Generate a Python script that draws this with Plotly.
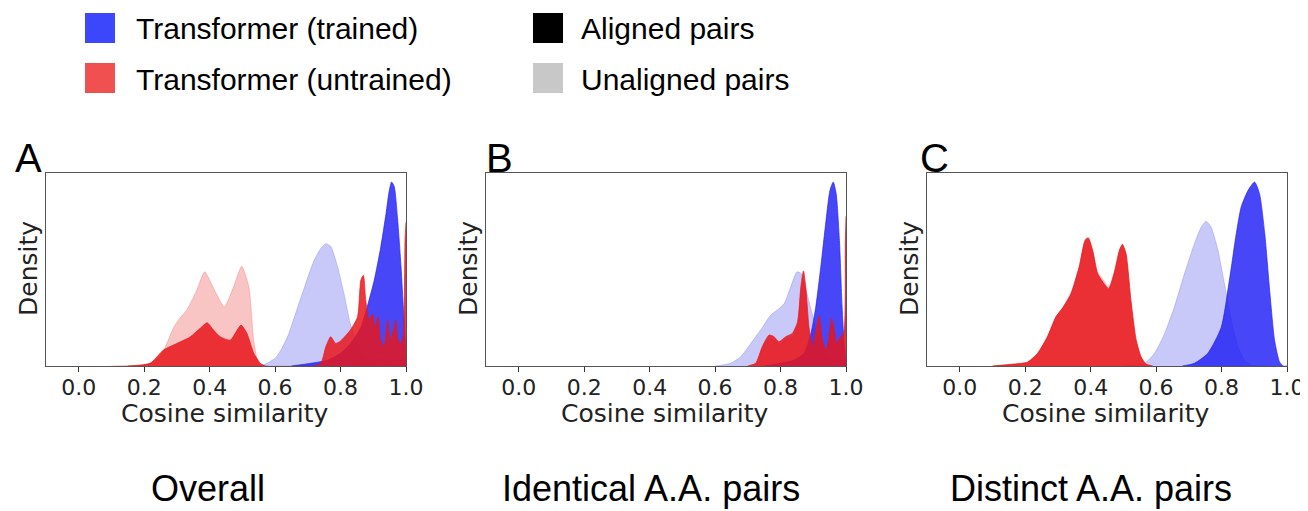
import plotly.graph_objects as go

# the page body adds an 8px margin at the top-left; figure fills the rest of the window
OFF = 8
W, H = 1308 - OFF, 511 - OFF

# ---------------- data (density, arbitrary units) ----------------
tick_vals = [0.0, 0.2, 0.4, 0.6, 0.8, 1.0]
tick_text = ["0.0", "0.2", "0.4", "0.6", "0.8", "1.0"]
panel_letters = ["A", "B", "C"]
panel_titles = ["Overall", "Identical A.A. pairs", "Distinct A.A. pairs"]
legend_models = ["Transformer (trained)", "Transformer (untrained)"]
legend_pairs = ["Aligned pairs", "Unaligned pairs"]

# Panel A: Overall
A_tu_x = [0.50, 0.55, 0.57, 0.60, 0.62, 0.64, 0.66, 0.68, 0.70, 0.72, 0.74, 0.755, 0.77, 0.79, 0.81, 0.83, 0.85, 0.87, 0.90, 0.95, 1.00]
A_tu_y = [0.0, 0.002, 0.01, 0.04, 0.09, 0.16, 0.26, 0.36, 0.46, 0.55, 0.61, 0.634, 0.62, 0.52, 0.38, 0.22, 0.12, 0.05, 0.015, 0.005, 0.003]
A_uu_x = [0.10, 0.15, 0.20, 0.22, 0.25, 0.27, 0.29, 0.31, 0.33, 0.36, 0.385, 0.41, 0.445, 0.473, 0.498, 0.52, 0.535, 0.55, 0.57, 0.60, 0.80, 0.85, 0.88, 0.90, 0.92, 0.95, 0.97, 1.00]
A_uu_y = [0.0, 0.002, 0.006, 0.015, 0.05, 0.12, 0.20, 0.25, 0.29, 0.39, 0.488, 0.41, 0.307, 0.41, 0.517, 0.41, 0.13, 0.015, 0.0, 0.0, 0.005, 0.02, 0.03, 0.025, 0.035, 0.025, 0.03, 0.05]
A_ta_x = [0.65, 0.709, 0.76, 0.80, 0.831, 0.862, 0.882, 0.903, 0.923, 0.939, 0.949, 0.956, 0.964, 0.974, 0.985, 0.993, 1.00]
A_ta_y = [0.0, 0.014, 0.03, 0.066, 0.117, 0.20, 0.31, 0.445, 0.617, 0.79, 0.91, 0.953, 0.93, 0.77, 0.51, 0.27, 0.066]
A_ua_x = [0.15, 0.218, 0.259, 0.30, 0.34, 0.371, 0.392, 0.412, 0.432, 0.463, 0.484, 0.496, 0.514, 0.535, 0.555, 0.57, 0.72,
          0.74, 0.755, 0.77, 0.785, 0.80, 0.83, 0.852, 0.862, 0.87, 0.877, 0.887, 0.898, 0.905, 0.915, 0.923, 0.933,
          0.944, 0.952, 0.962, 0.969, 0.976, 0.985, 0.992, 0.997, 1.00]
A_ua_y = [0.0, 0.014, 0.083, 0.117, 0.15, 0.195, 0.224, 0.186, 0.152, 0.134, 0.186, 0.212, 0.169, 0.066, 0.014, 0.0, 0.0,
          0.014, 0.10, 0.152, 0.117, 0.13, 0.186, 0.255, 0.445, 0.47, 0.34, 0.24, 0.27, 0.20, 0.255, 0.134, 0.10,
          0.24, 0.134, 0.186, 0.238, 0.134, 0.117, 0.169, 0.65, 0.746]

# Panel B: Identical A.A. pairs
B_tu_x = [0.60, 0.647, 0.678, 0.709, 0.739, 0.77, 0.79, 0.811, 0.831, 0.85, 0.862, 0.88, 0.90, 0.92, 0.95, 1.00]
B_tu_y = [0.0, 0.014, 0.048, 0.117, 0.186, 0.264, 0.29, 0.324, 0.41, 0.488, 0.48, 0.38, 0.25, 0.12, 0.04, 0.01]
B_uu_x = [0.70, 0.724, 0.744, 0.765, 0.78, 0.795, 0.816, 0.836, 0.852, 0.862, 0.87, 0.877, 0.887, 0.898, 0.908, 0.918,
          0.928, 0.939, 0.949, 0.956, 0.964, 0.972, 0.983, 0.993, 0.998, 1.00]
B_uu_y = [0.0, 0.012, 0.09, 0.14, 0.135, 0.11, 0.135, 0.15, 0.20, 0.37, 0.44, 0.37, 0.18, 0.09, 0.165, 0.23,
          0.12, 0.075, 0.15, 0.22, 0.165, 0.105, 0.135, 0.15, 0.58, 0.70]
B_ta_x = [0.75, 0.80, 0.841, 0.872, 0.893, 0.908, 0.923, 0.939, 0.951, 0.961, 0.97, 0.98, 0.988, 0.995, 1.00]
B_ta_y = [0.0, 0.014, 0.03, 0.066, 0.169, 0.31, 0.514, 0.755, 0.91, 0.953, 0.893, 0.65, 0.31, 0.10, 0.014]
B_ua_x = [0.70, 0.724, 0.744, 0.765, 0.78, 0.795, 0.816, 0.836, 0.852, 0.862, 0.87, 0.877, 0.887, 0.898, 0.908, 0.918,
          0.928, 0.939, 0.949, 0.956, 0.964, 0.972, 0.983, 0.993, 0.998, 1.00]
B_ua_y = [0.0, 0.014, 0.10, 0.16, 0.152, 0.126, 0.152, 0.169, 0.229, 0.41, 0.493, 0.41, 0.20, 0.10, 0.186, 0.259,
          0.134, 0.083, 0.169, 0.247, 0.186, 0.117, 0.152, 0.169, 0.65, 0.776]

# Panel C: Distinct A.A. pairs
C_tu_x = [0.50, 0.564, 0.595, 0.626, 0.656, 0.687, 0.717, 0.738, 0.753, 0.768, 0.789, 0.809, 0.83, 0.85, 0.87, 0.89, 0.95]
C_tu_y = [0.0, 0.014, 0.066, 0.169, 0.307, 0.48, 0.634, 0.72, 0.75, 0.72, 0.60, 0.427, 0.238, 0.10, 0.031, 0.005, 0.0]
C_uu_x = [0.10, 0.166, 0.207, 0.238, 0.268, 0.294, 0.314, 0.34, 0.365, 0.383, 0.393, 0.406, 0.421, 0.437, 0.455, 0.472,
          0.488, 0.497, 0.508, 0.523, 0.539, 0.554, 0.569, 0.59]
C_uu_y = [0.0, 0.01, 0.02, 0.066, 0.152, 0.255, 0.30, 0.376, 0.514, 0.645, 0.655, 0.60, 0.49, 0.45, 0.41, 0.49,
          0.60, 0.625, 0.58, 0.345, 0.14, 0.05, 0.01, 0.0]
C_ta_x = [0.68, 0.717, 0.758, 0.799, 0.824, 0.845, 0.86, 0.881, 0.901, 0.916, 0.932, 0.947, 0.962, 0.977, 0.988, 1.00]
C_ta_y = [0.0, 0.014, 0.066, 0.20, 0.445, 0.686, 0.824, 0.91, 0.953, 0.893, 0.686, 0.393, 0.134, 0.022, 0.0, 0.0]
C_ua_x = [0.10, 0.166, 0.207, 0.238, 0.268, 0.294, 0.314, 0.34, 0.365, 0.383, 0.393, 0.406, 0.421, 0.437, 0.455, 0.472,
          0.488, 0.497, 0.508, 0.523, 0.539, 0.554, 0.569, 0.59]
C_ua_y = [0.0, 0.01, 0.02, 0.066, 0.152, 0.255, 0.30, 0.376, 0.514, 0.652, 0.664, 0.60, 0.48, 0.436, 0.40, 0.48,
          0.60, 0.631, 0.583, 0.341, 0.134, 0.048, 0.01, 0.0]

# ---------------- styles ----------------
COL_TA = "rgba(30,30,245,0.82)"    # trained, aligned
COL_TU = "rgba(60,60,235,0.28)"    # trained, unaligned
COL_UA = "rgba(232,22,28,0.85)"    # untrained, aligned
COL_UU = "rgba(235,60,60,0.30)"    # untrained, unaligned

AX_FONT = "DejaVu Sans"
TXT_FONT = "Liberation Sans, Arial, sans-serif"

panels = [
    (A_tu_x, A_tu_y, A_uu_x, A_uu_y, A_ta_x, A_ta_y, A_ua_x, A_ua_y),
    (B_tu_x, B_tu_y, B_uu_x, B_uu_y, B_ta_x, B_ta_y, B_ua_x, B_ua_y),
    (C_tu_x, C_tu_y, C_uu_x, C_uu_y, C_ta_x, C_ta_y, C_ua_x, C_ua_y),
]

def px(x):
    return (x - OFF) / W

def py(y):
    return 1 - (y - OFF) / H

box_left = [46, 486, 927]
box_w = 360
box_top, box_bot = 173, 366

fig = go.Figure()

for i, (tux, tuy, uux, uuy, tax, tay, uax, uay) in enumerate(panels):
    suffix = "" if i == 0 else str(i + 1)
    for xs, ys, col in [(tux, tuy, COL_TU), (uux, uuy, COL_UU), (tax, tay, COL_TA), (uax, uay, COL_UA)]:
        fig.add_trace(go.Scatter(
            x=xs, y=ys, mode="lines", fill="tozeroy", fillcolor=col,
            line=dict(color=col, width=0.8, shape="spline", smoothing=0.6),
            xaxis="x" + suffix, yaxis="y" + suffix, showlegend=False, hoverinfo="skip"))

layout = dict(
    width=W, height=H, autosize=False,
    margin=dict(l=0, r=0, t=0, b=0, pad=0, autoexpand=False),
    paper_bgcolor="white", plot_bgcolor="white", showlegend=False,
)
for i in range(3):
    suffix = "" if i == 0 else str(i + 1)
    layout["xaxis" + suffix] = dict(
        domain=[px(box_left[i]), px(box_left[i] + box_w)], anchor="y" + suffix,
        range=[-0.1, 1.0], tickvals=tick_vals, ticktext=tick_text,
        ticks="outside", ticklen=5, tickwidth=1.2, tickcolor="#333",
        showline=True, linecolor="#555", linewidth=1.3, mirror=True,
        showgrid=False, zeroline=False, ticklabelstandoff=-4, automargin=False,
        tickfont=dict(family=AX_FONT, size=22, color="#222"),
    )
    layout["yaxis" + suffix] = dict(
        domain=[py(box_bot), py(box_top)], anchor="x" + suffix,
        range=[0, 1.0], showticklabels=False, ticks="", automargin=False,
        showline=True, linecolor="#555", linewidth=1.3, mirror=True,
        showgrid=False, zeroline=False,
    )
fig.update_layout(**layout)

ann = []
title_cx = [208, 651, 1091]
letter_x = [15, 486, 920]
for i in range(3):
    cx = box_left[i] + box_w / 2
    ann.append(dict(text=panel_letters[i], x=px(letter_x[i] - 2), y=py(158), xref="paper", yref="paper",
                    xanchor="left", yanchor="middle", showarrow=False,
                    font=dict(family=TXT_FONT, size=40, color="black")))
    ann.append(dict(text="Density", x=px(box_left[i] - 18), y=py(269), xref="paper", yref="paper",
                    xanchor="center", yanchor="middle", textangle=-90, showarrow=False,
                    font=dict(family=AX_FONT, size=25, color="#222")))
    ann.append(dict(text="Cosine similarity", x=px(cx - 2), y=py(413), xref="paper", yref="paper",
                    xanchor="center", yanchor="middle", showarrow=False,
                    font=dict(family=AX_FONT, size=25, color="#222")))
    ann.append(dict(text=panel_titles[i], x=px(title_cx[i]), y=py(488), xref="paper", yref="paper",
                    xanchor="center", yanchor="middle", showarrow=False,
                    font=dict(family=TXT_FONT, size=36, color="black")))

# legend (drawn manually)
shapes = []
leg_rows = [28, 78]
model_cols = ["rgb(60,70,250)", "rgb(240,80,80)"]
pair_cols = ["black", "rgb(200,200,200)"]
for r in range(2):
    yc = leg_rows[r]
    shapes.append(dict(type="rect", xref="paper", yref="paper", x0=px(85), x1=px(115),
                       y0=py(yc + 15), y1=py(yc - 15), fillcolor=model_cols[r], line=dict(width=0)))
    shapes.append(dict(type="rect", xref="paper", yref="paper", x0=px(533), x1=px(563),
                       y0=py(yc + 15), y1=py(yc - 15), fillcolor=pair_cols[r], line=dict(width=0)))
    ann.append(dict(text=legend_models[r], x=px(134), y=py(yc + 1), xref="paper", yref="paper",
                    xanchor="left", yanchor="middle", showarrow=False,
                    font=dict(family=TXT_FONT, size=30, color="black")))
    ann.append(dict(text=legend_pairs[r], x=px(579), y=py(yc + 1), xref="paper", yref="paper",
                    xanchor="left", yanchor="middle", showarrow=False,
                    font=dict(family=TXT_FONT, size=30, color="black")))

fig.update_layout(annotations=ann, shapes=shapes)
fig.write_html("out.html")
